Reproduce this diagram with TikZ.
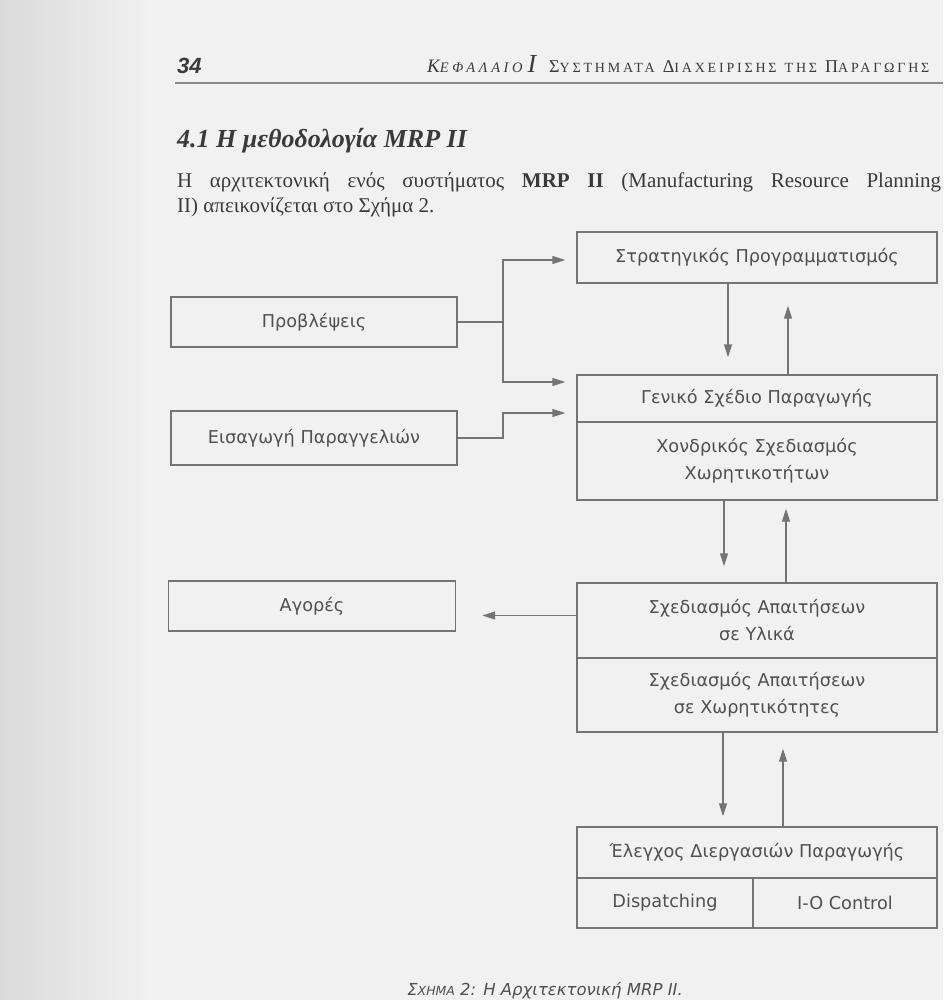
\documentclass[tikz,border=0pt]{standalone}
\usepackage{fontspec}
\setmainfont{Liberation Serif}
\newfontfamily\diagfont{DejaVu Sans}
\newfontfamily\capfont{Liberation Sans}
\usetikzlibrary{arrows.meta}
\definecolor{paper}{HTML}{F1F1F1}
\definecolor{gutter}{HTML}{DADADA}
\definecolor{ink}{HTML}{3A3A3A}
\definecolor{dtext}{HTML}{505050}
\definecolor{dline}{HTML}{747474}
\definecolor{rulec}{HTML}{8A8A8A}
\begin{document}
\begin{tikzpicture}[x=1pt,y=-1pt,
  box/.style={draw=dline, line width=1.4pt, inner sep=0pt, align=center, text=dtext,
    font=\diagfont\fontsize{17.7}{27}\selectfont},
  conn/.style={draw=dline, line width=1.4pt},
  arr/.style={conn, -{Triangle[length=13pt,width=8pt]}},
  txt/.style={inner sep=0pt, text=ink},
]
\useasboundingbox (0,0) rectangle (943,1000);
\fill[paper] (0,0) rectangle (943,1000);
\shade[left color=gutter, right color=paper] (0,0) rectangle (150,1000);

% running head
\node[txt, anchor=base west, font=\capfont\bfseries\itshape\fontsize{22}{22}\selectfont] (pnum) at (177,74) {34};
\node[txt, anchor=base west, font=\itshape\fontsize{19}{19}\selectfont] (hdrA) at (427,73)
  {{\addfontfeature{LetterSpace=25}Κ{\fontsize{14.5}{14.5}\selectfont ΕΦΑΛΑΙΟ}}\hspace{5pt}{\fontsize{26}{26}\selectfont I}};
\node[txt, anchor=base west, font=\fontsize{18}{18}\selectfont] (hdrB) at (549,73)
  {\addfontfeature{LetterSpace=20}Σ{\fontsize{14}{14}\selectfont ΥΣΤΗΜΑΤΑ} Δ{\fontsize{14}{14}\selectfont ΙΑΧΕΙΡΙΣΗΣ} {\fontsize{14}{14}\selectfont ΤΗΣ} Π{\fontsize{14}{14}\selectfont ΑΡΑΓΩΓΗΣ}};
\draw[rulec, line width=1.6pt] (175,83) -- (943,83);

% section title and paragraph
\node[txt, anchor=base west, font=\bfseries\itshape\fontsize{26}{26}\selectfont] (title) at (177,148) {4.1 Η μεθοδολογία MRP II};
\node[txt, anchor=base west, font=\fontsize{21}{21}\selectfont] (par1) at (177,188)
  {\makebox[764pt][s]{Η αρχιτεκτονική ενός συστήματος \textbf{MRP II} (Manufacturing Resource Planning}};
\node[txt, anchor=base west, font=\fontsize{21}{21}\selectfont] (par2) at (177,213) {II) απεικονίζεται στο Σχήμα 2.};

% diagram boxes
\node[box, minimum width=360pt, minimum height=51pt] (strat) at (757,257.5) {Στρατηγικός Προγραμματισμός};
\node[box, minimum width=360pt, minimum height=47pt] (gen) at (757,398.5) {Γενικό Σχέδιο Παραγωγής};
\node[box, minimum width=360pt, minimum height=78pt] (xond) at (757,461) {Χονδρικός Σχεδιασμός\\Χωρητικοτήτων};
\node[box, minimum width=360pt, minimum height=75pt] (ylika) at (757,620.5) {Σχεδιασμός Απαιτήσεων\\σε Υλικά};
\node[box, minimum width=360pt, minimum height=74pt] (xwr) at (757,695) {Σχεδιασμός Απαιτήσεων\\σε Χωρητικότητες};
\node[box, minimum width=360pt, minimum height=51pt] (elegx) at (757,852.5) {Έλεγχος Διεργασιών Παραγωγής};
\node[box, minimum width=176pt, minimum height=50pt] (disp) at (665,903) {Dispatching};
\node[box, minimum width=184pt, minimum height=50pt] (ioc) at (845,903) {I-O Control};

\node[box, minimum width=286pt, minimum height=50pt] (prob) at (314,322) {Προβλέψεις};
\node[box, minimum width=286pt, minimum height=54pt] (eisag) at (314,438) {Εισαγωγή Παραγγελιών};
\node[box, minimum width=287pt, minimum height=50pt] (agor) at (312,606) {Αγορές};

% connectors from the left
\coordinate (j1) at (503,322);
\coordinate (j1t) at (503,260);
\coordinate (j1b) at (503,382);
\coordinate (j2) at (503,413);
\draw[conn] (prob.east) -- (j1);
\draw[arr, shorten >=11pt] (j1) |- (j1t -| strat.west);
\draw[arr, shorten >=11pt] (j1) |- (j1b -| gen.west);
\draw[arr, shorten >=11pt] (eisag.east) -| (j2) -- (j2 -| gen.west);

% vertical feedback pairs
\draw[arr, shorten >=17pt] ([xshift=-29pt]strat.south) -- ([xshift=-29pt]gen.north);
\draw[arr, shorten >=22pt] ([xshift=31pt]gen.north) -- ([xshift=31pt]strat.south);
\draw[arr, shorten >=16pt] ([xshift=-33pt]xond.south) -- ([xshift=-33pt]ylika.north);
\draw[arr, shorten >=8pt] ([xshift=29pt]ylika.north) -- ([xshift=29pt]xond.south);
\draw[arr, shorten >=10pt] ([xshift=-34pt]xwr.south) -- ([xshift=-34pt]elegx.north);
\draw[arr, shorten >=16pt] ([xshift=26pt]elegx.north) -- ([xshift=26pt]xwr.south);

% to markets
\draw[arr, shorten >=26pt] ([yshift=5pt]ylika.west) -- ([yshift=5pt]ylika.west -| agor.east);

% caption
\node[anchor=base, inner sep=0pt, text=dtext, font=\diagfont\itshape\fontsize{16.5}{16.5}\selectfont] (cap) at (545,995)
  {Σ{\fontsize{12.5}{12.5}\selectfont ΧΗΜΑ} 2: Η Αρχιτεκτονική MRP II.};
\end{tikzpicture}
\end{document}
